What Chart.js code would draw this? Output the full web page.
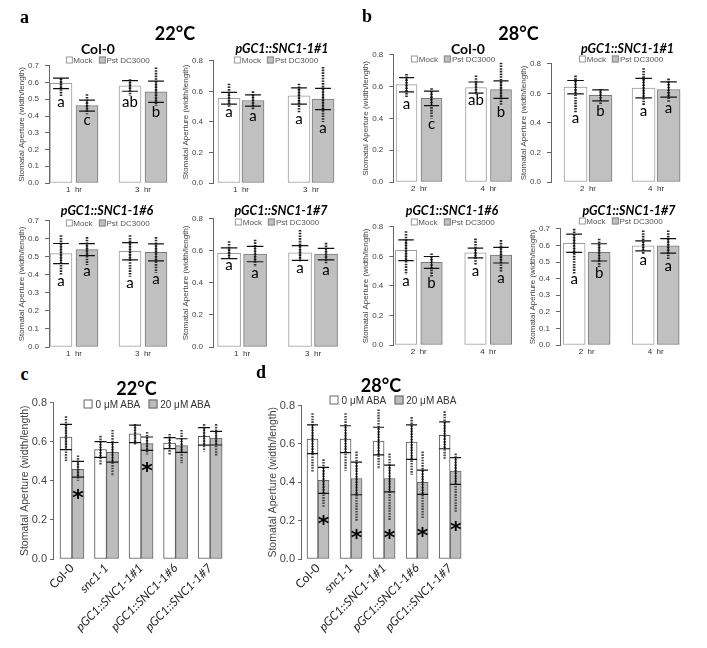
<!DOCTYPE html>
<html>
<head>
<meta charset="utf-8">
<script src="https://cdn.jsdelivr.net/npm/chart.js@4.4.1/dist/chart.umd.min.js"></script>
<style>
body { margin: 0; background: #fff; }
#fig { position: relative; width: 707px; height: 648px; overflow: hidden; font-family: "Liberation Sans", Arial, sans-serif; }
#fig canvas { position: absolute; }
.t { position: absolute; transform: translate(-50%, -50%); white-space: nowrap; line-height: 1; color: #000; }
.panel { font: bold 18px "Liberation Serif", serif; }
.temp { font: bold 18px Lato, sans-serif; }
.sub { font: bold 14px Lato, sans-serif; }
.sub.it { font-style: italic; font-size: 12.5px; }
.lg { font: 8px "Liberation Sans", Arial, sans-serif; color: #555; }
.lg2 { font: 10px "Liberation Sans", Arial, sans-serif; color: #333; }
.bx { display: inline-block; box-sizing: border-box; width: 7px; height: 7px; border: 1px solid #999; background: #fff; margin-right: 1px; vertical-align: -0.5px; }
.bx.g { background: #c0c0c0; border-color: #888; margin-left: 6px; }
.lg2 .bx { width: 9px; height: 9px; margin-right: 3px; border-color: #666; vertical-align: -1px; }
.lg2 .bx.g { background: #bdbdbd; margin-left: 8px; }
</style>
</head>
<body>
<div id="fig"></div>
<script>
// ---------- data ----------
var hours22 = ['1  hr', '3  hr'];
var hours28 = ['2  hr', '4  hr'];
var lines = ['Col-0', 'pGC1::SNC1-1#1', 'pGC1::SNC1-1#6', 'pGC1::SNC1-1#7'];
var treatPst = ['Mock', 'Pst DC3000'];

// a: 22°C, one pair per line = [1 hr, 3 hr]
var mock22    = [[0.595, 0.58], [0.555, 0.57], [0.518, 0.531], [0.585, 0.587]];
var mock22Sd  = [[0.031, 0.032], [0.038, 0.053], [0.056, 0.048], [0.033, 0.046]];
var pst22     = [[0.462, 0.545], [0.54, 0.55], [0.54, 0.525], [0.58, 0.58]];
var pst22Sd   = [[0.033, 0.064], [0.037, 0.07], [0.033, 0.047], [0.048, 0.036]];
// spread of the single stomata (lowest / highest point)
var mock22Lo  = [[0.52, 0.52], [0.50, 0.46], [0.40, 0.39], [0.55, 0.53]];
var mock22Hi  = [[0.625, 0.62], [0.65, 0.65], [0.62, 0.62], [0.66, 0.73]];
var pst22Lo   = [[0.41, 0.46], [0.48, 0.40], [0.455, 0.41], [0.50, 0.52]];
var pst22Hi   = [[0.53, 0.69], [0.60, 0.76], [0.61, 0.61], [0.67, 0.65]];
var mock22Let = [['a', 'ab'], ['a', 'a'], ['a', 'a'], ['a', 'a']];
var pst22Let  = [['c', 'b'], ['a', 'a'], ['a', 'a'], ['a', 'a']];

// b: 28°C, [2 hr, 4 hr]
var mock28    = [[0.612, 0.594], [0.642, 0.635], [0.641, 0.623], [0.613, 0.597]];
var mock28Sd  = [[0.045, 0.035], [0.045, 0.066], [0.07, 0.033], [0.055, 0.03]];
var pst28     = [[0.526, 0.581], [0.586, 0.626], [0.559, 0.608], [0.558, 0.597]];
var pst28Sd   = [[0.046, 0.055], [0.037, 0.052], [0.04, 0.053], [0.052, 0.044]];
var mock28Lo  = [[0.53, 0.55], [0.47, 0.52], [0.475, 0.54], [0.43, 0.55]];
var mock28Hi  = [[0.68, 0.67], [0.72, 0.77], [0.77, 0.72], [0.70, 0.69]];
var pst28Lo   = [[0.40, 0.48], [0.52, 0.54], [0.46, 0.49], [0.47, 0.51]];
var pst28Hi   = [[0.59, 0.75], [0.63, 0.70], [0.62, 0.71], [0.64, 0.69]];
var mock28Let = [['a', 'ab'], ['a', 'a'], ['a', 'a'], ['a', 'a']];
var pst28Let  = [['c', 'b'], ['b', 'a'], ['b', 'a'], ['b', 'a']];

// c / d: ABA
var genotypes = ['Col-0', 'snc1-1', 'pGC1::SNC1-1#1', 'pGC1::SNC1-1#6', 'pGC1::SNC1-1#7'];
var treatAba = ['0 \u03bcM ABA', '20 \u03bcM ABA'];
var aba0_22    = [0.624, 0.56, 0.64, 0.593, 0.627];
var aba0_22Sd  = [0.065, 0.04, 0.045, 0.028, 0.045];
var aba20_22   = [0.459, 0.546, 0.59, 0.58, 0.618];
var aba20_22Sd = [0.04, 0.05, 0.034, 0.035, 0.035];
var aba0_22Lo  = [0.50, 0.48, 0.585, 0.535, 0.55];
var aba0_22Hi  = [0.73, 0.63, 0.69, 0.64, 0.69];
var aba20_22Lo = [0.40, 0.425, 0.535, 0.49, 0.53];
var aba20_22Hi = [0.53, 0.66, 0.65, 0.66, 0.69];
var star22     = ['*', '', '*', '', ''];

var aba0_28    = [0.625, 0.625, 0.615, 0.61, 0.645];
var aba0_28Sd  = [0.075, 0.07, 0.072, 0.09, 0.07];
var aba20_28   = [0.41, 0.42, 0.42, 0.40, 0.459];
var aba20_28Sd = [0.068, 0.085, 0.07, 0.063, 0.07];
var aba0_28Lo  = [0.45, 0.46, 0.47, 0.44, 0.52];
var aba0_28Hi  = [0.76, 0.76, 0.78, 0.74, 0.77];
var aba20_28Lo = [0.27, 0.20, 0.20, 0.21, 0.24];
var aba20_28Hi = [0.52, 0.56, 0.55, 0.56, 0.55];
var star28     = ['*', '*', '*', '*', '*'];

// ---------- layout of the small plots (pixels / axis ranges) ----------
var boxes22 = [
  { L: 49,  R: 172, T: 62.7,  B: 182.7, yMax: 0.7, step: 0.1, xMin: 0.638, xMax: 2.42, bar: 22, chunk: 26, title: [98, 48],   legend: [107.5, 60] },
  { L: 213, R: 340, T: 58.3,  B: 182.7, yMax: 0.8, step: 0.2, xMin: 0.6,   xMax: 2.414, bar: 22, chunk: 24, title: [282, 48],  legend: [276, 60] },
  { L: 49,  R: 172, T: 218.3, B: 346.7, yMax: 0.7, step: 0.1, xMin: 0.638, xMax: 2.42, bar: 22, chunk: 26, title: [107, 210], legend: [107.5, 223] },
  { L: 213, R: 340, T: 215.5, B: 346.7, yMax: 0.8, step: 0.2, xMin: 0.59,  xMax: 2.38, bar: 23, chunk: 26, title: [281, 210], legend: [277, 222] }
];
var boxes28 = [
  { L: 393.3, R: 517, T: 51.7,  B: 181.7, yMax: 0.8, step: 0.2, xMin: 0.63,  xMax: 2.41, bar: 21, chunk: 25, title: [468, 48],   legend: [453, 59] },
  { L: 551,   R: 684, T: 61,    B: 181.7, yMax: 0.8, step: 0.2, xMin: 0.456, xMax: 2.41, bar: 23, chunk: 25, title: [627.5, 48], legend: [621, 59] },
  { L: 393.3, R: 516, T: 224.3, B: 345,   yMax: 0.8, step: 0.2, xMin: 0.633, xMax: 2.40, bar: 21.5, chunk: 25.5, title: [452, 210], legend: [452.5, 222] },
  { L: 560,   R: 684, T: 226,   B: 345,   yMax: 0.7, step: 0.1, xMin: 0.614, xMax: 2.41, bar: 22, chunk: 25, title: [629, 210],  legend: [620.5, 221] }
];
var boxC = { L: 53,  R: 226, T: 400.5, B: 559.3, yMax: 0.8, step: 0.2, xMin: 0.45,  xMax: 5.46, bar: 12, chunk: 12 };
var boxD = { L: 301, R: 466, T: 403.7, B: 559.3, yMax: 0.8, step: 0.2, xMin: 0.485, xMax: 5.48, bar: 11, chunk: 11 };

var fig = document.getElementById('fig');
var YLAB = 'Stomatal Aperture (width/length)';

function place(cls, x, y, html) {
  var d = document.createElement('div');
  d.className = 't ' + cls;
  d.style.left = x + 'px';
  d.style.top = y + 'px';
  d.innerHTML = html;
  fig.appendChild(d);
}

// error bars, point spread and letters / stars, all through the y scale
function marks(s, small) {
  return {
    id: 'marks',
    afterDatasetsDraw: function (chart) {
      var ctx = chart.ctx, ys = chart.scales.y;
      for (var k = 0; k < 2; k++) {
        chart.getDatasetMeta(k).data.forEach(function (el, i) {
          var x = el.x, half = el.width / 2;
          ctx.save();
          ctx.strokeStyle = small ? '#2a2a2a' : '#444';
          ctx.lineWidth = small ? 2.6 : 2.4;
          ctx.setLineDash([1.6, 1.1]);
          ctx.beginPath();
          ctx.moveTo(x, ys.getPixelForValue(s.hi[k][i]));
          ctx.lineTo(x, ys.getPixelForValue(s.lo[k][i]));
          ctx.stroke();
          ctx.restore();

          var m = s.means[k][i], sd = s.sds[k][i];
          var yt = ys.getPixelForValue(m + sd), yb = ys.getPixelForValue(m - sd);
          var cw = small ? half * 0.72 : half;
          ctx.save();
          ctx.strokeStyle = '#111';
          ctx.lineWidth = 1.2;
          ctx.beginPath();
          ctx.moveTo(x, yt); ctx.lineTo(x, yb);
          ctx.moveTo(x - cw, yt); ctx.lineTo(x + cw, yt);
          ctx.moveTo(x - cw, yb); ctx.lineTo(x + cw, yb);
          ctx.stroke();

          var t = s.tags[k][i];
          if (t) {
            var ylo = ys.getPixelForValue(s.lo[k][i]);
            ctx.fillStyle = '#000';
            ctx.textAlign = 'center';
            if (small) {
              ctx.font = '15px Lato, sans-serif';
              ctx.textBaseline = 'middle';
              ctx.fillText(t, x, ylo + 6);
            } else {
              ctx.font = 'bold 22px "DejaVu Sans", sans-serif';
              ctx.textBaseline = 'alphabetic';
              ctx.fillText(t, x, ylo + 12 + 12);
            }
          }
          ctx.restore();
        });
      }
    }
  };
}

function makeChart(b, s) {
  var small = s.small;
  var yw0 = small ? 32 : 34, pt0 = 8, pr = 4, xh = small ? 16 : 85;
  var left = Math.round(b.L - yw0), top = Math.round(b.T - pt0);
  var yw = b.L - left, pt = b.T - top;
  var w = Math.round(b.R + pr - left), h = Math.round(b.B + xh - top);
  var cv = document.createElement('canvas');
  cv.width = w; cv.height = h;
  cv.style.left = left + 'px'; cv.style.top = top + 'px';
  cv.style.width = w + 'px'; cv.style.height = h + 'px';
  fig.appendChild(cv);

  var fills = small ? ['#ffffff', '#c0c0c0'] : ['#ffffff', '#bdbdbd'];
  var strokes = small ? ['#9c9c9c', '#7a7a7a'] : ['#555555', '#666666'];
  var tickSize = small ? 8 : 11;

  new Chart(cv, {
    type: 'bar',
    data: {
      datasets: [0, 1].map(function (k) {
        return {
          label: s.names[k],
          data: s.means[k].map(function (v, i) { return { x: i + 1, y: v }; }),
          backgroundColor: fills[k],
          borderColor: strokes[k],
          borderWidth: 1,
          borderSkipped: false,
          barThickness: b.chunk,
          maxBarThickness: b.bar
        };
      })
    },
    options: {
      responsive: false,
      animation: false,
      events: [],
      layout: { padding: { left: 0, top: pt, right: pr, bottom: 0 } },
      plugins: { legend: { display: false }, tooltip: { enabled: false } },
      scales: {
        x: {
          type: 'linear', min: b.xMin, max: b.xMax, offset: false,
          grid: { display: false, drawTicks: false },
          border: { display: false },
          afterBuildTicks: function (sc) { sc.ticks = s.labels.map(function (l, i) { return { value: i + 1 }; }); },
          afterFit: function (sc) { sc.height = xh; },
          ticks: {
            autoSkip: false,
            minRotation: small ? 0 : 45, maxRotation: small ? 0 : 45,
            padding: 2,
            color: small ? '#333' : '#222',
            font: function (c) {
              if (small) return { family: '"Liberation Sans", Arial, sans-serif', size: 8 };
              return { family: 'Lato, sans-serif', size: 12, style: c.index === 0 ? 'normal' : 'italic' };
            },
            callback: function (v, i) { return s.labels[i]; }
          }
        },
        y: {
          min: 0, max: b.yMax,
          ticks: {
            stepSize: b.step,
            padding: small ? 6 : 3,
            color: '#444',
            font: { family: '"Liberation Sans", Arial, sans-serif', size: tickSize },
            callback: function (v) { return v.toFixed(1); }
          },
          grid: { drawOnChartArea: false, drawTicks: true, tickLength: small ? 4 : 3, color: '#666' },
          border: { color: '#666' },
          title: {
            display: true, text: YLAB, color: '#444', padding: 0,
            font: { family: '"Liberation Sans", Arial, sans-serif', size: small ? 8 : 10.5 }
          },
          afterFit: function (sc) { sc.width = yw; }
        }
      }
    },
    plugins: [marks(s, small)]
  });
}

// ---------- panels a and b ----------
function smallSet(boxes, hours, mock, mockSd, pst, pstSd, mLo, mHi, pLo, pHi, mLet, pLet) {
  boxes.forEach(function (b, g) {
    makeChart(b, {
      small: true,
      labels: hours,
      names: treatPst,
      means: [mock[g], pst[g]],
      sds: [mockSd[g], pstSd[g]],
      lo: [mLo[g], pLo[g]],
      hi: [mHi[g], pHi[g]],
      tags: [mLet[g], pLet[g]]
    });
    place('sub' + (g ? ' it' : ''), b.title[0], b.title[1], lines[g]);
    place('lg', b.legend[0], b.legend[1],
      '<span class="bx"></span>' + treatPst[0] + '<span class="bx g"></span>' + treatPst[1]);
  });
}
smallSet(boxes22, hours22, mock22, mock22Sd, pst22, pst22Sd, mock22Lo, mock22Hi, pst22Lo, pst22Hi, mock22Let, pst22Let);
smallSet(boxes28, hours28, mock28, mock28Sd, pst28, pst28Sd, mock28Lo, mock28Hi, pst28Lo, pst28Hi, mock28Let, pst28Let);

// ---------- panels c and d ----------
var none = genotypes.map(function () { return ''; });
makeChart(boxC, {
  small: false, labels: genotypes, names: treatAba,
  means: [aba0_22, aba20_22], sds: [aba0_22Sd, aba20_22Sd],
  lo: [aba0_22Lo, aba20_22Lo], hi: [aba0_22Hi, aba20_22Hi], tags: [none, star22]
});
makeChart(boxD, {
  small: false, labels: genotypes, names: treatAba,
  means: [aba0_28, aba20_28], sds: [aba0_28Sd, aba20_28Sd],
  lo: [aba0_28Lo, aba20_28Lo], hi: [aba0_28Hi, aba20_28Hi], tags: [none, star28]
});

var lg2 = '<span class="bx"></span>' + treatAba[0] + '<span class="bx g"></span>' + treatAba[1];
place('lg2', 147, 404, lg2);
place('lg2', 393, 400, lg2);

// panel letters and temperatures
place('panel', 24.5, 17, 'a');
place('panel', 367, 16, 'b');
place('panel', 24.5, 374, 'c');
place('panel', 261, 372, 'd');
place('temp', 175, 33, '22\u00b0C');
place('temp', 518.5, 33, '28\u00b0C');
place('temp', 136.5, 388, '22\u00b0C');
place('temp', 381, 385, '28\u00b0C');
</script>
</body>
</html>
